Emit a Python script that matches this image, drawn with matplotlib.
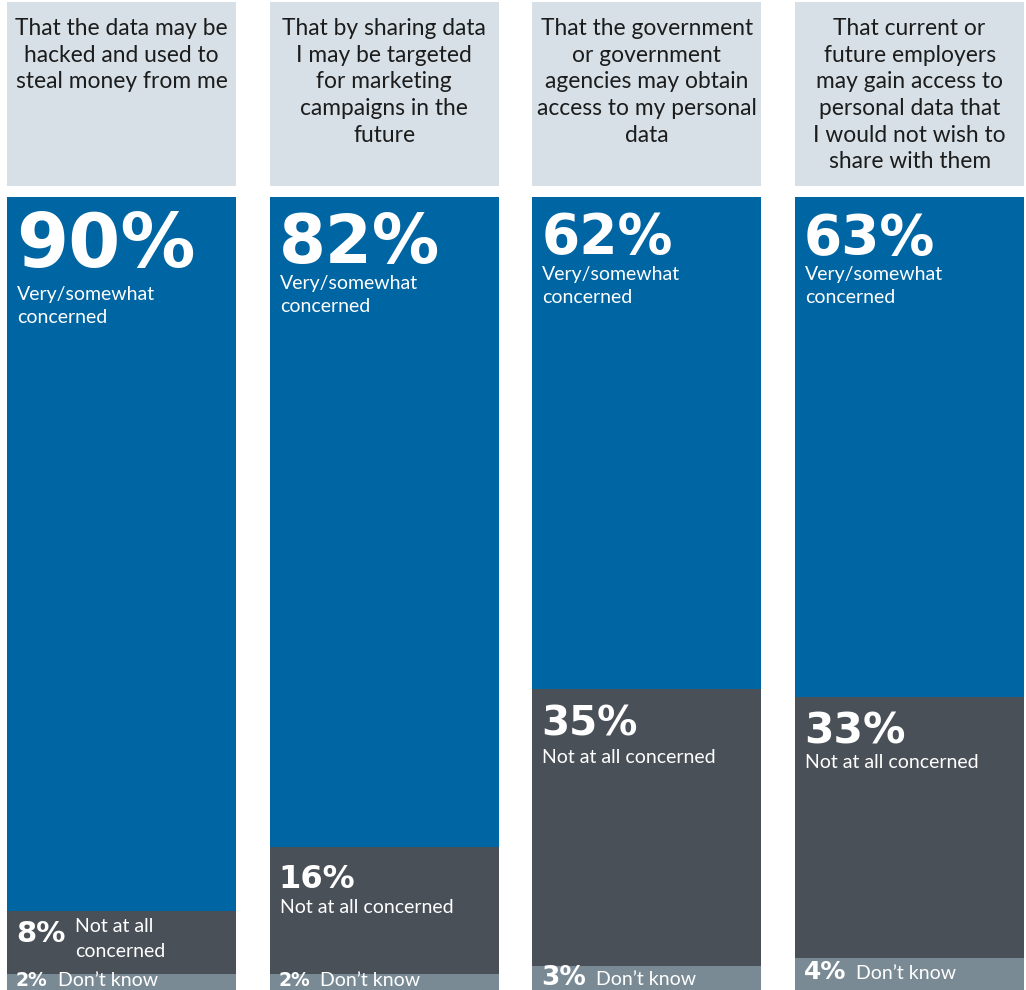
import numpy as np
import matplotlib.pyplot as plt

# Share of respondents (%) per concern
questions = [
    'That the data may be\nhacked and used to\nsteal money from me',
    'That by sharing data\nI may be targeted\nfor marketing\ncampaigns in the\nfuture',
    'That the government\nor government\nagencies may obtain\naccess to my personal\ndata',
    'That current or\nfuture employers\nmay gain access to\npersonal data that\nI would not wish to\nshare with them',
]
concerned = [90, 82, 62, 63]
not_concerned = [8, 16, 35, 33]
dont_know = [2, 2, 3, 4]

txt_concerned = 'Very/somewhat\nconcerned'
txt_not = 'Not at all concerned'
txt_not_short = 'Not at all\nconcerned'
txt_dk = 'Don\u2019t know'

# styling
c_blue = '#0065a3'
c_dark = '#4a5058'
c_light = '#7a8a94'
c_head = '#d6e0e6'
body_font = 'Lato'
num_font = 'DejaVu Sans'
body_size = 14
head_size = 16.4

# font sizes (pt) of the big percentages
size_vc = [54, 48.5, 39.5, 39.5]
size_nc = [21, 23, 29, 30.5]
size_dk = [13.5, 13.5, 19, 18]
# baseline offsets (px) below each segment's top
off_vc = [70, 66, 56, 57]
off_vc_txt = [103, 92, 83, 83]
off_nc = [31, 41, 47, 47]
off_nc_txt = [21, 66, 74, 71]
off_dk = [4, 4, 5, 11]  # above the bar bottom

W, H = 1026, 990
fig = plt.figure(figsize=(W / 100, H / 100), dpi=100)
ax = fig.add_axes([0, 0, 1, 793 / H])
ax_head = fig.add_axes([0, (H - 186) / H, 1, 184 / H])

x = np.arange(len(questions))
bar_w = 0.872
for a in (ax, ax_head):
    a.set_xlim(-0.4625, 3.443)
    a.axis('off')

vc = np.array(concerned)
nc = np.array(not_concerned)
dk = np.array(dont_know)

ax.bar(x, dk, bar_w, color=c_light)
ax.bar(x, nc, bar_w, bottom=dk, color=c_dark)
ax.bar(x, vc, bar_w, bottom=dk + nc, color=c_blue)
ax.set_ylim(0, 100)

# header boxes
ax_head.bar(x, 1, bar_w, color=c_head)
ax_head.set_ylim(0, 1)


def px(v):
    return v * 0.72  # pixels -> points at 100 dpi


def put(text, xy, dx, dy, size, bold=False, xycoords='data', axis=ax, color='white', ha='left'):
    return axis.annotate(text, xy=xy, xycoords=xycoords,
                         xytext=(px(dx), -px(dy)), textcoords='offset points',
                         ha=ha, va='baseline', color=color, fontsize=size,
                         family=num_font if bold else body_font,
                         fontweight='bold' if bold else 'normal',
                         annotation_clip=False)


def put_lines(text, xy, dx, dy, size, step, **kw):
    for i, line in enumerate(text.split('\n')):
        put(line, xy, dx, dy + i * step, size, **kw)


for i in range(len(questions)):
    left = x[i] - bar_w / 2

    # header question
    put_lines(questions[i], (x[i], 1), 0, 33, head_size, 26.7, axis=ax_head,
              color='#1c1c1c', ha='center')

    # very / somewhat concerned
    top = 100
    put(f'{concerned[i]}%', (left, top), 9, off_vc[i], size_vc[i], bold=True)
    put_lines(txt_concerned, (left, top), 10, off_vc_txt[i], body_size, 23.5)

    # not at all concerned
    top = dk[i] + nc[i]
    num = put(f'{not_concerned[i]}%', (left, top), 9, off_nc[i], size_nc[i], bold=True)
    if not_concerned[i] < 10:
        for j, line in enumerate(txt_not_short.split('\n')):
            put(line, (1, top), 10, off_nc_txt[i] + j * 25, body_size,
                xycoords=(num, 'data'))
    else:
        put(txt_not, (left, top), 10, off_nc_txt[i], body_size)

    # don't know
    num = put(f'{dont_know[i]}%', (left, 0), 9, -off_dk[i], size_dk[i], bold=True)
    put(txt_dk, (1, 0), 10, -off_dk[i], body_size, xycoords=(num, 'data'))

fig.savefig('out.png', dpi=100, facecolor='white')
